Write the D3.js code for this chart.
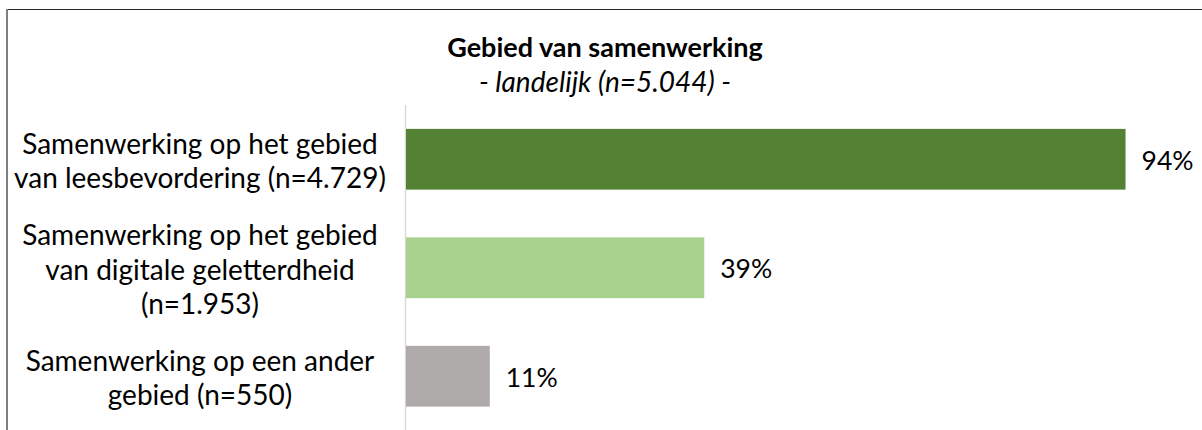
<!DOCTYPE html>
<html>
<head>
    <meta charset="utf-8">
    <title>Gebied van samenwerking</title>
    <script type="text/javascript" src="https://d3js.org/d3.v7.min.js"></script>
    <style>
        body{
            margin:0px;
            background:#ffffff;
        }
        svg{
            display:block;
            font-family:Lato, "Open Sans", sans-serif;
        }
    </style>
</head>
<body>
    <div id="chart"></div>
    <script type="text/javascript">
        // data
        var categories = ["leesbevordering", "digitaal", "anders"]
        var labelLines = [
            ["Samenwerking op het gebied", "van leesbevordering (n=4.729)"],
            ["Samenwerking op het gebied", "van digitale geletterdheid", "(n=1.953)"],
            ["Samenwerking op een ander", "gebied (n=550)"]
        ]
        var values = [0.94, 0.39, 0.11]
        var valueLabels = ["94%", "39%", "11%"]
        var barColors = ["#548235", "#a9d18e", "#aeaaaa"]
        var title = "Gebied van samenwerking"
        var subtitle = "- landelijk (n=5.044) -"

        var width = 1202
        var height = 430

        var svg = d3.select("#chart")
            .append("svg")
            .attr("width", width)
            .attr("height", height)

        // chart frame (cropped at right and bottom)
        svg.append("line")
            .attr("x1", 7).attr("x2", width)
            .attr("y1", 9.5).attr("y2", 9.5)
            .attr("stroke", "#262626")
            .attr("stroke-width", 1)
        svg.append("line")
            .attr("x1", 7).attr("x2", 7)
            .attr("y1", 9).attr("y2", height)
            .attr("stroke", "#7f7f7f")
            .attr("stroke-width", 2)

        var x = d3.scaleLinear().domain([0, 1]).range([405.5, 1171.5])
        var y = d3.scaleBand()
            .domain(categories)
            .range([105, 430.5])
            .paddingInner(0.44)
            .paddingOuter(0.22)

        // title
        svg.append("text")
            .attr("x", 605).attr("y", 57)
            .attr("text-anchor", "middle")
            .attr("font-weight", "bold")
            .attr("font-size", 27)
            .attr("fill", "#000")
            .text(title)
        svg.append("text")
            .attr("x", 605).attr("y", 92)
            .attr("text-anchor", "middle")
            .attr("font-style", "italic")
            .attr("font-size", 28)
            .attr("fill", "#000")
            .text(subtitle)

        // vertical axis line
        svg.append("line")
            .attr("x1", x(0)).attr("x2", x(0))
            .attr("y1", y.range()[0]).attr("y2", height)
            .attr("stroke", "#d9d9d9")
            .attr("stroke-width", 1.5)

        svg.selectAll(".bar")
            .data(categories)
            .enter()
            .append("rect")
            .attr("class", "bar")
            .attr("x", x(0) + 0.5)
            .attr("y", function(d){ return y(d) })
            .attr("width", function(d, i){ return x(values[i]) - x(0) - 0.5 })
            .attr("height", y.bandwidth())
            .attr("fill", function(d, i){ return barColors[i] })

        svg.selectAll(".value")
            .data(categories)
            .enter()
            .append("text")
            .attr("class", "value")
            .attr("x", function(d, i){ return x(values[i]) + 16 })
            .attr("y", function(d){ return y(d) + y.bandwidth() / 2 + 1 })
            .attr("dy", "0.35em")
            .attr("font-size", 26.5)
            .attr("fill", "#000")
            .text(function(d, i){ return valueLabels[i] })

        // category labels, multi-line, centred
        var lineHeight = 34.5
        categories.forEach(function(c, i){
            var lines = labelLines[i]
            var cy = y(c) + y.bandwidth() / 2 + 2
            var t = svg.append("text")
                .attr("class", "cat")
                .attr("text-anchor", "middle")
                .attr("font-size", 28)
                .attr("fill", "#000")
            lines.forEach(function(l, j){
                t.append("tspan")
                    .attr("x", 200)
                    .attr("y", cy + (j - (lines.length - 1) / 2) * lineHeight)
                    .attr("dy", "0.35em")
                    .text(l)
            })
        })
    </script>
</body>
</html>
